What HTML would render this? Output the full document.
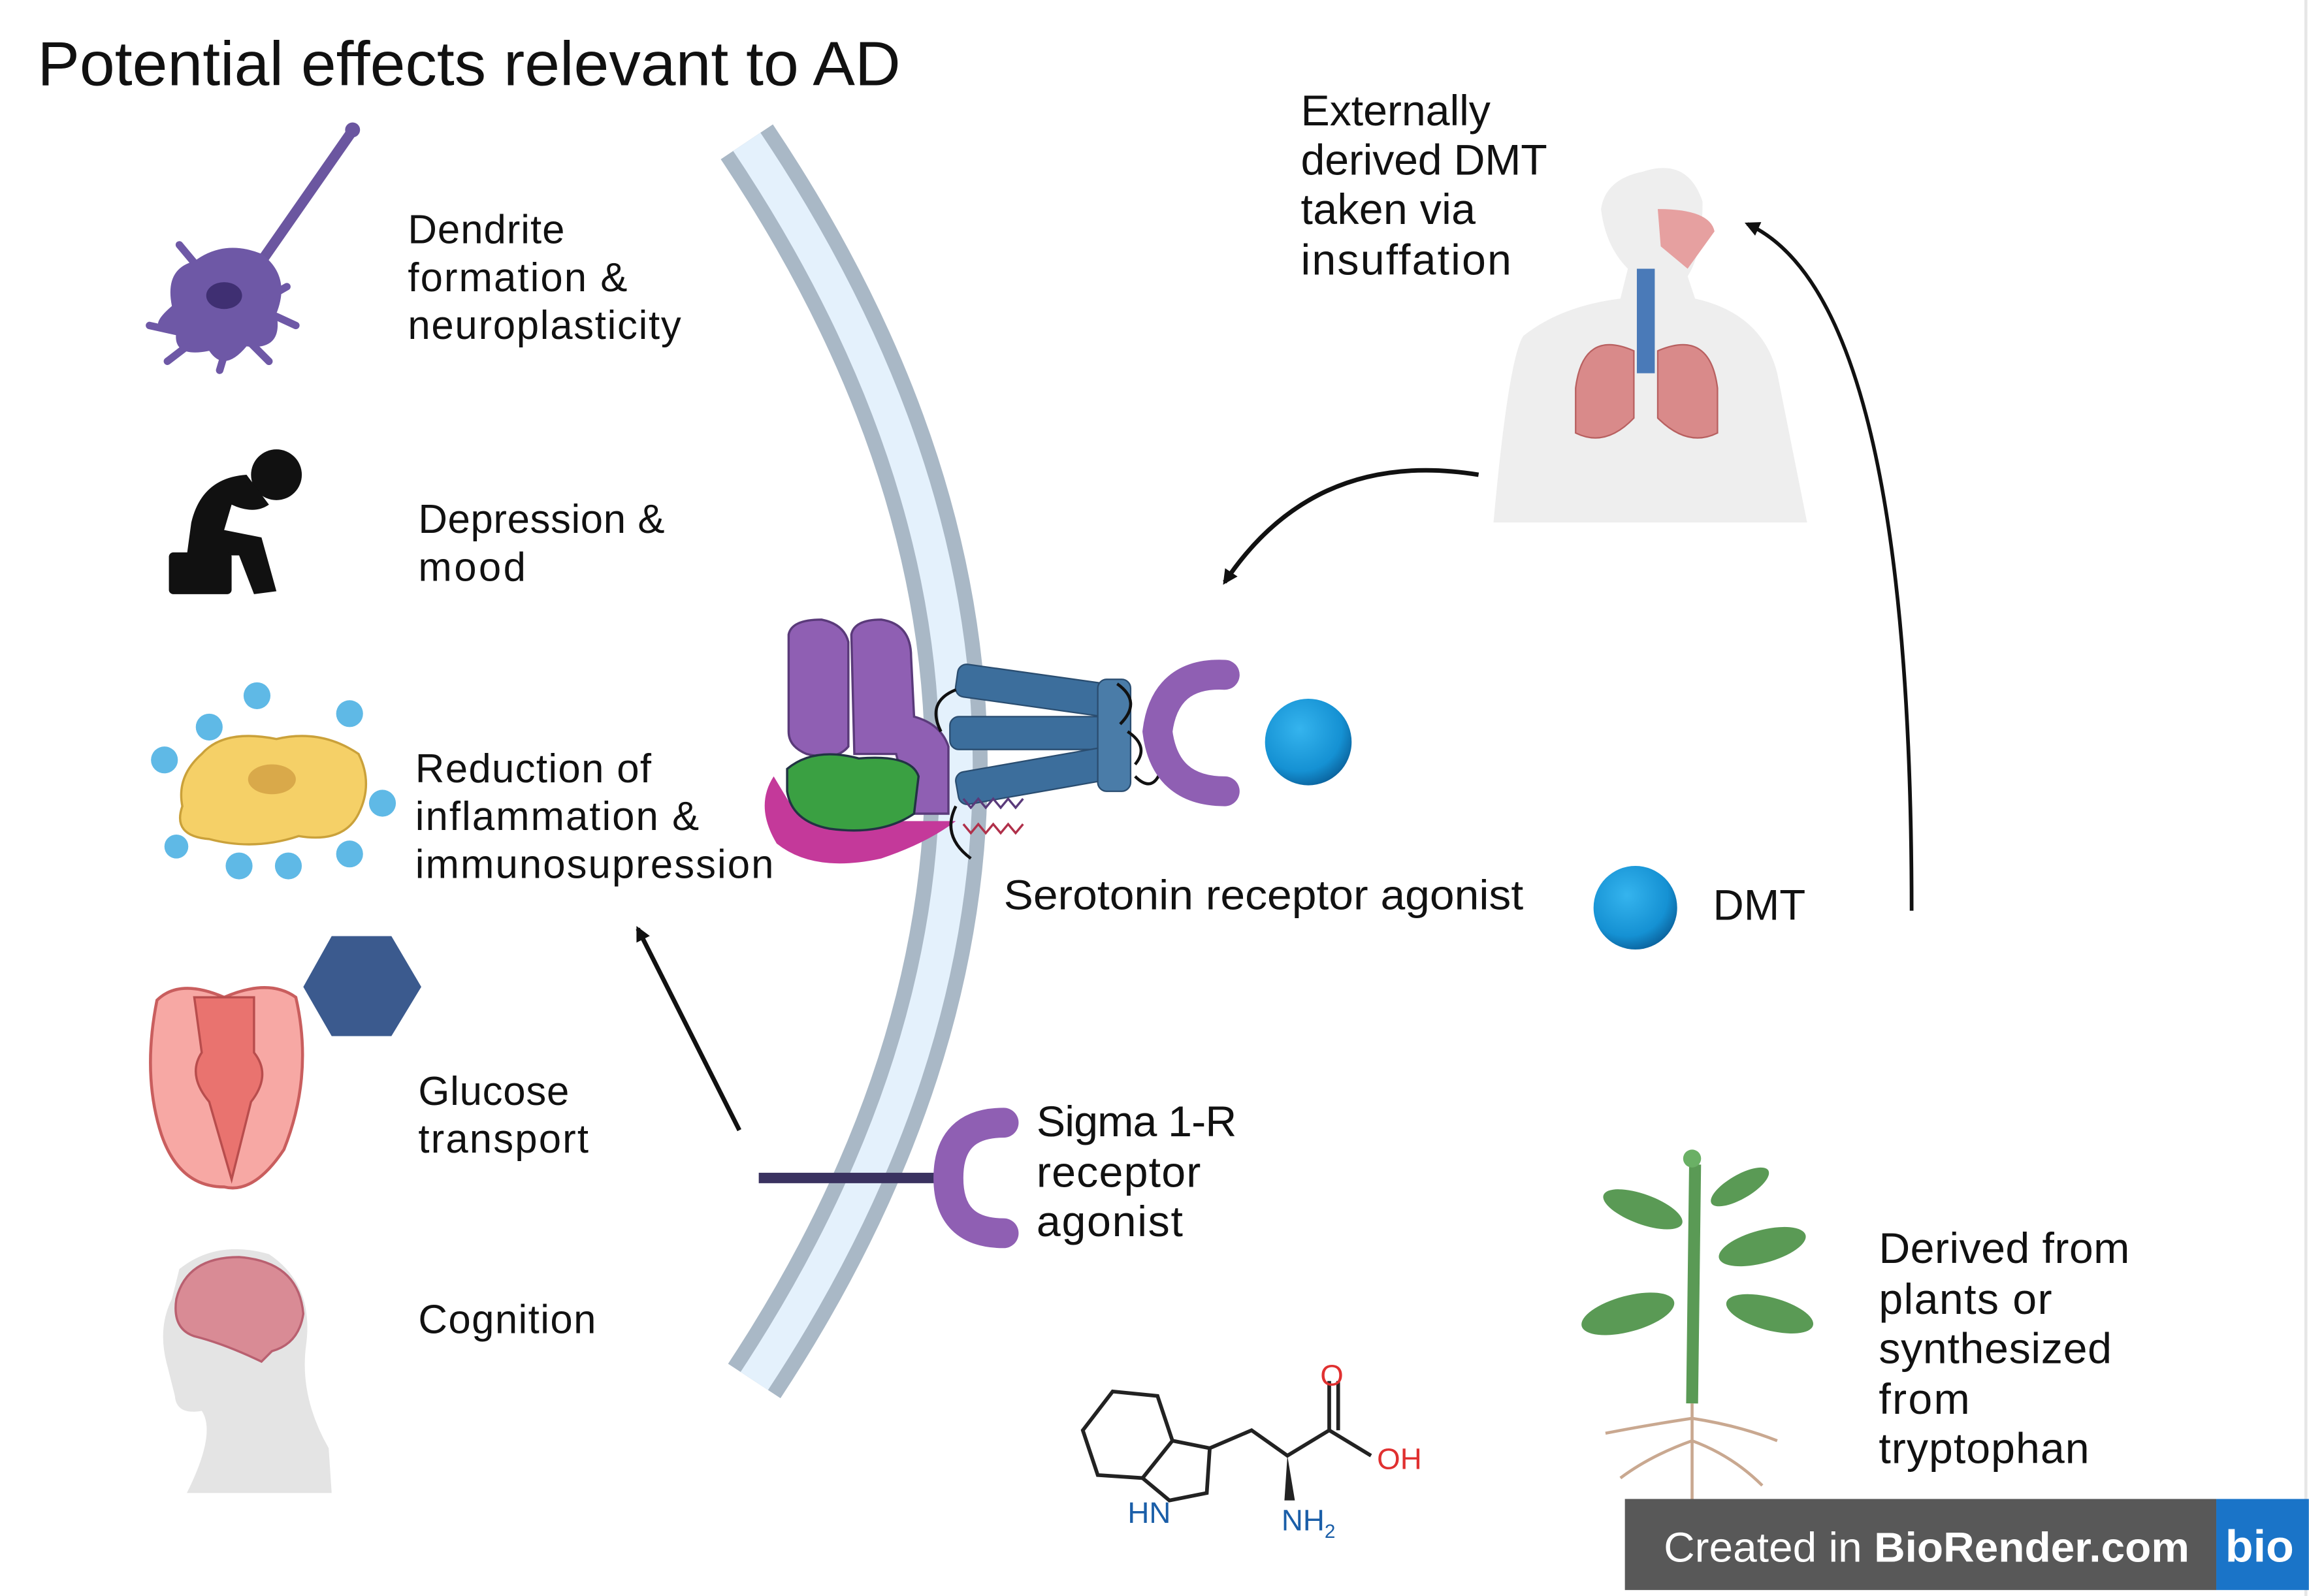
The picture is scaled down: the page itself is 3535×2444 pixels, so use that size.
<!DOCTYPE html>
<html><head><meta charset="utf-8"><style>html,body{margin:0;padding:0;background:#fff}svg{display:block}text{font-family:"Liberation Sans",sans-serif;fill:#111}</style></head><body>
<svg width="3535" height="2444" viewBox="0 0 1546 1069" xmlns="http://www.w3.org/2000/svg">
<defs>
<marker id="ah" markerWidth="10" markerHeight="10" refX="8" refY="5" orient="auto" markerUnits="userSpaceOnUse"><path d="M0,0 L10,5 L0,10 z" fill="#111"/></marker>
<radialGradient id="ball" cx="0.4" cy="0.35" r="0.7"><stop offset="0" stop-color="#35b4ee"/><stop offset="0.7" stop-color="#1591d3"/><stop offset="1" stop-color="#0a5f99"/></radialGradient>
</defs>
<rect width="1546" height="1069" fill="#fff"/>
<line x1="1544" y1="0" x2="1544" y2="1069" stroke="#e6e6e6" stroke-width="2"/>
<text x="25" y="57" font-size="42" textLength="578" lengthAdjust="spacingAndGlyphs">Potential effects relevant to AD</text>

<!-- membrane -->
<path d="M500,95 Q778,510 505,925" fill="none" stroke="#a9b8c6" stroke-width="42"/>
<path d="M500,95 Q778,510 505,925" fill="none" stroke="#e4f1fc" stroke-width="22"/>

<!-- neuron -->
<path d="M237,86 L175,175" stroke="#6b56a0" stroke-width="7" stroke-linecap="round"/>
<circle cx="236" cy="87" r="5" fill="#6b56a0"/>
<path d="M130,175 Q150,160 175,170 Q195,185 185,210 Q190,235 165,232 Q150,250 140,235 Q115,240 118,222 Q95,222 115,205 Q110,180 130,175z" fill="#6e58a6"/>
<path d="M118,222 L100,218 M125,232 L112,242 M150,238 L147,248 M168,230 L180,242 M185,212 L198,218 M130,176 L120,164 M178,200 L192,192" stroke="#6e58a6" stroke-width="5" stroke-linecap="round"/>
<ellipse cx="150" cy="198" rx="12" ry="9" fill="#3f2f72"/>

<!-- depressed person -->
<circle cx="185" cy="318" r="17" fill="#111"/>
<path d="M165,318 Q135,320 128,350 L125,372 L160,372 L170,398 L185,396 L175,360 L150,355 L155,338 Q170,345 180,338z" fill="#111"/>
<rect x="113" y="370" width="42" height="28" rx="3" fill="#111"/>

<!-- cell with dots -->
<path d="M135,505 Q150,488 185,495 Q215,488 240,505 Q250,525 240,545 Q230,565 200,560 Q170,570 140,562 Q115,560 122,540 Q118,520 135,505z" fill="#f5d067" stroke="#caa13a" stroke-width="1.5"/>
<ellipse cx="182" cy="522" rx="16" ry="10" fill="#d9a94a"/>
<g fill="#5fb9e6">
<circle cx="172" cy="466" r="9"/><circle cx="234" cy="478" r="9"/><circle cx="140" cy="487" r="9"/><circle cx="110" cy="509" r="9"/><circle cx="256" cy="538" r="9"/><circle cx="118" cy="567" r="8"/><circle cx="160" cy="580" r="9"/><circle cx="193" cy="580" r="9"/><circle cx="234" cy="572" r="9"/></g>

<!-- glucose -->
<polygon points="222,627 262,627 282,661 262,694 222,694 203,661" fill="#3b5a8e"/>
<path d="M105,670 Q120,655 150,668 Q180,655 198,668 Q210,720 190,770 Q170,800 150,795 Q120,795 108,760 Q95,720 105,670z" fill="#f7a8a4" stroke="#c95e5e" stroke-width="2"/>
<path d="M130,668 L170,668 L170,705 Q182,720 168,738 L155,790 L140,738 Q125,720 135,705z" fill="#e9736f" stroke="#b84d4d" stroke-width="1.5"/>

<!-- head/brain -->
<path d="M120,850 Q145,830 180,840 Q210,860 205,900 Q200,935 220,970 L222,1000 L125,1000 Q145,960 135,945 Q118,948 117,935 L112,915 Q105,890 115,870z" fill="#e4e4e4"/>
<path d="M118,870 Q125,842 160,842 Q200,845 203,880 Q200,900 182,905 L175,912 Q150,900 130,895 Q115,890 118,870z" fill="#d98b95" stroke="#b96070" stroke-width="1.5"/>

<!-- texts left -->
<g font-size="27" lengthAdjust="spacingAndGlyphs">
<text x="273" y="163" textLength="105">Dendrite</text><text x="273" y="195" textLength="147">formation &amp;</text><text x="273" y="227" textLength="183">neuroplasticity</text>
<text x="280" y="357" textLength="165">Depression &amp;</text><text x="280" y="389" textLength="72">mood</text>
<text x="278" y="524" textLength="158">Reduction of</text><text x="278" y="556" textLength="190">inflammation &amp;</text><text x="278" y="588" textLength="240">immunosupression</text>
<text x="280" y="740" textLength="101">Glucose</text><text x="280" y="772" textLength="114">transport</text>
<text x="280" y="893" textLength="119">Cognition</text>
</g>

<!-- receptor complex -->
<path d="M528,425 Q530,415 550,415 Q565,418 568,430 L568,500 Q560,510 540,505 Q528,500 528,490z" fill="#8f5fb3" stroke="#5a3a7a" stroke-width="1.5"/>
<path d="M570,425 Q572,415 590,415 Q610,418 610,440 L612,480 Q630,485 635,500 L635,545 L610,545 L600,505 L572,505z" fill="#8f5fb3" stroke="#5a3a7a" stroke-width="1.5"/>
<path d="M518,520 Q505,540 520,565 Q545,585 590,575 Q620,565 640,550 L600,550 Q560,555 530,540z" fill="#c4399a"/>
<path d="M527,515 Q545,500 575,508 Q610,505 615,520 L612,545 Q590,560 555,555 Q530,550 527,530z" fill="#3aa042" stroke="#234" stroke-width="1.5"/>
<g fill="#3c6e9c" stroke="#2a4d70" stroke-width="1">
<rect x="640" y="452" width="115" height="22" rx="6" transform="rotate(8 697 463)"/>
<rect x="636" y="480" width="118" height="22" rx="6"/>
<rect x="640" y="508" width="115" height="22" rx="6" transform="rotate(-10 697 519)"/>
<rect x="735" y="455" width="22" height="75" rx="6" fill="#4a7ca8"/>
</g>
<path d="M640,462 Q620,470 630,490 M748,458 Q765,470 750,485 M755,490 Q770,500 760,512 M640,540 Q630,560 650,575 M760,520 Q775,535 780,505" fill="none" stroke="#111" stroke-width="2"/>
<path d="M645,535 l5,6 5,-6 5,6 5,-6 5,6 5,-6 5,6 5,-6" fill="none" stroke="#5a3a7a" stroke-width="1.5"/>
<path d="M645,552 l5,6 5,-6 5,6 5,-6 5,6 5,-6 5,6 5,-6" fill="none" stroke="#b0304a" stroke-width="1.5"/>
<path d="M820,452 Q780,450 775,490 Q780,530 820,530" fill="none" stroke="#8f5fb3" stroke-width="20" stroke-linecap="round"/>
<circle cx="876" cy="497" r="29" fill="url(#ball)"/>
<text x="672" y="609" font-size="28" textLength="348" lengthAdjust="spacingAndGlyphs">Serotonin receptor agonist</text>

<!-- DMT -->
<circle cx="1095" cy="608" r="28" fill="url(#ball)"/>
<text x="1147" y="616" font-size="29" textLength="62" lengthAdjust="spacingAndGlyphs">DMT</text>

<!-- sigma -->
<line x1="508" y1="789" x2="632" y2="789" stroke="#3a3260" stroke-width="7"/>
<path d="M672,752 Q635,752 635,789 Q635,826 672,826" fill="none" stroke="#8f5fb3" stroke-width="20" stroke-linecap="round"/>
<g font-size="29" lengthAdjust="spacingAndGlyphs"><text x="694" y="761" textLength="134">Sigma 1-R</text><text x="694" y="795" textLength="110">receptor</text><text x="694" y="828" textLength="98">agonist</text></g>

<!-- arrows -->
<line x1="495" y1="757" x2="427" y2="622" stroke="#111" stroke-width="3" marker-end="url(#ah)"/>
<path d="M990,318 Q880,300 820,390" fill="none" stroke="#111" stroke-width="3" marker-end="url(#ah)"/>
<path d="M1280,610 Q1280,200 1170,150" fill="none" stroke="#111" stroke-width="2.5" marker-end="url(#ah)"/>

<!-- human -->
<path d="M1100,115 Q1130,105 1140,135 Q1140,170 1130,185 L1135,200 Q1180,210 1190,250 L1210,350 L1000,350 Q1010,240 1020,225 Q1045,205 1085,200 L1090,180 Q1075,165 1072,140 Q1075,120 1100,115z" fill="#eeeeee"/>
<path d="M1110,140 Q1145,140 1148,155 L1130,180 L1112,165z" fill="#e6a0a0"/>
<rect x="1096" y="180" width="12" height="70" fill="#4a7ab8"/>
<path d="M1094,235 Q1060,220 1055,260 L1055,290 Q1075,300 1094,280z" fill="#d98a8a" stroke="#b86060"/>
<path d="M1110,235 Q1145,220 1150,260 L1150,290 Q1130,300 1110,280z" fill="#d98a8a" stroke="#b86060"/>
<g font-size="29" lengthAdjust="spacingAndGlyphs"><text x="871" y="84" textLength="127">Externally</text><text x="871" y="117" textLength="165">derived DMT</text><text x="871" y="150" textLength="117">taken via</text><text x="871" y="184" textLength="141">insuffation</text></g>

<!-- plant -->
<path d="M1135,780 L1133,940" stroke="#5a9a55" stroke-width="8"/>
<circle cx="1133" cy="776" r="6" fill="#6ab065"/>
<g fill="#5a9a55">
<ellipse cx="1100" cy="810" rx="28" ry="10" transform="rotate(20 1100 810)"/>
<ellipse cx="1165" cy="795" rx="22" ry="8" transform="rotate(-30 1165 795)"/>
<ellipse cx="1180" cy="835" rx="30" ry="11" transform="rotate(-15 1180 835)"/>
<ellipse cx="1090" cy="880" rx="32" ry="12" transform="rotate(-15 1090 880)"/>
<ellipse cx="1185" cy="880" rx="30" ry="11" transform="rotate(15 1185 880)"/>
</g>
<path d="M1133,940 L1133,1010 M1133,950 Q1100,955 1075,960 M1133,950 Q1165,955 1190,965 M1133,965 Q1105,975 1085,990 M1133,965 Q1160,975 1180,995" stroke="#c9a890" stroke-width="2" fill="none"/>
<g font-size="29" lengthAdjust="spacingAndGlyphs"><text x="1258" y="846" textLength="168">Derived from</text><text x="1258" y="880" textLength="116">plants or</text><text x="1258" y="913" textLength="156">synthesized</text><text x="1258" y="947" textLength="61">from</text><text x="1258" y="980" textLength="141">tryptophan</text></g>

<!-- tryptophan -->
<g stroke="#222" stroke-width="2.5" fill="none">
<path d="M745,932 L775,935 L785,965 L765,990 L735,988 L725,958z"/>
<path d="M785,965 L810,970 L808,1000 L783,1005 L765,990"/>
<path d="M810,970 L838,958 L862,975 L890,958 L918,975 M890,958 L890,925 M896,958 L896,925"/>
</g>
<path d="M862,975 L860,1005 L867,1005z" fill="#222"/>
<text x="884" y="928" font-size="20" style="fill:#e03030">O</text>
<text x="922" y="984" font-size="20" style="fill:#e03030">OH</text>
<text x="755" y="1020" font-size="20" style="fill:#1a5ea8">HN</text>
<text x="858" y="1025" font-size="20" style="fill:#1a5ea8">NH<tspan font-size="13" dy="5">2</tspan></text>

<!-- banner -->
<rect x="1088" y="1004" width="396" height="61" fill="#585858"/>
<rect x="1484" y="1004" width="62" height="61" fill="#1a74c8"/>
<text x="1114" y="1046" font-size="28" textLength="352" lengthAdjust="spacingAndGlyphs" style="fill:#fff">Created in <tspan font-weight="bold">BioRender.com</tspan></text>
<text x="1490" y="1046" font-size="30" font-weight="bold" textLength="46" lengthAdjust="spacingAndGlyphs" style="fill:#fff">bio</text>
</svg>
</body></html>
